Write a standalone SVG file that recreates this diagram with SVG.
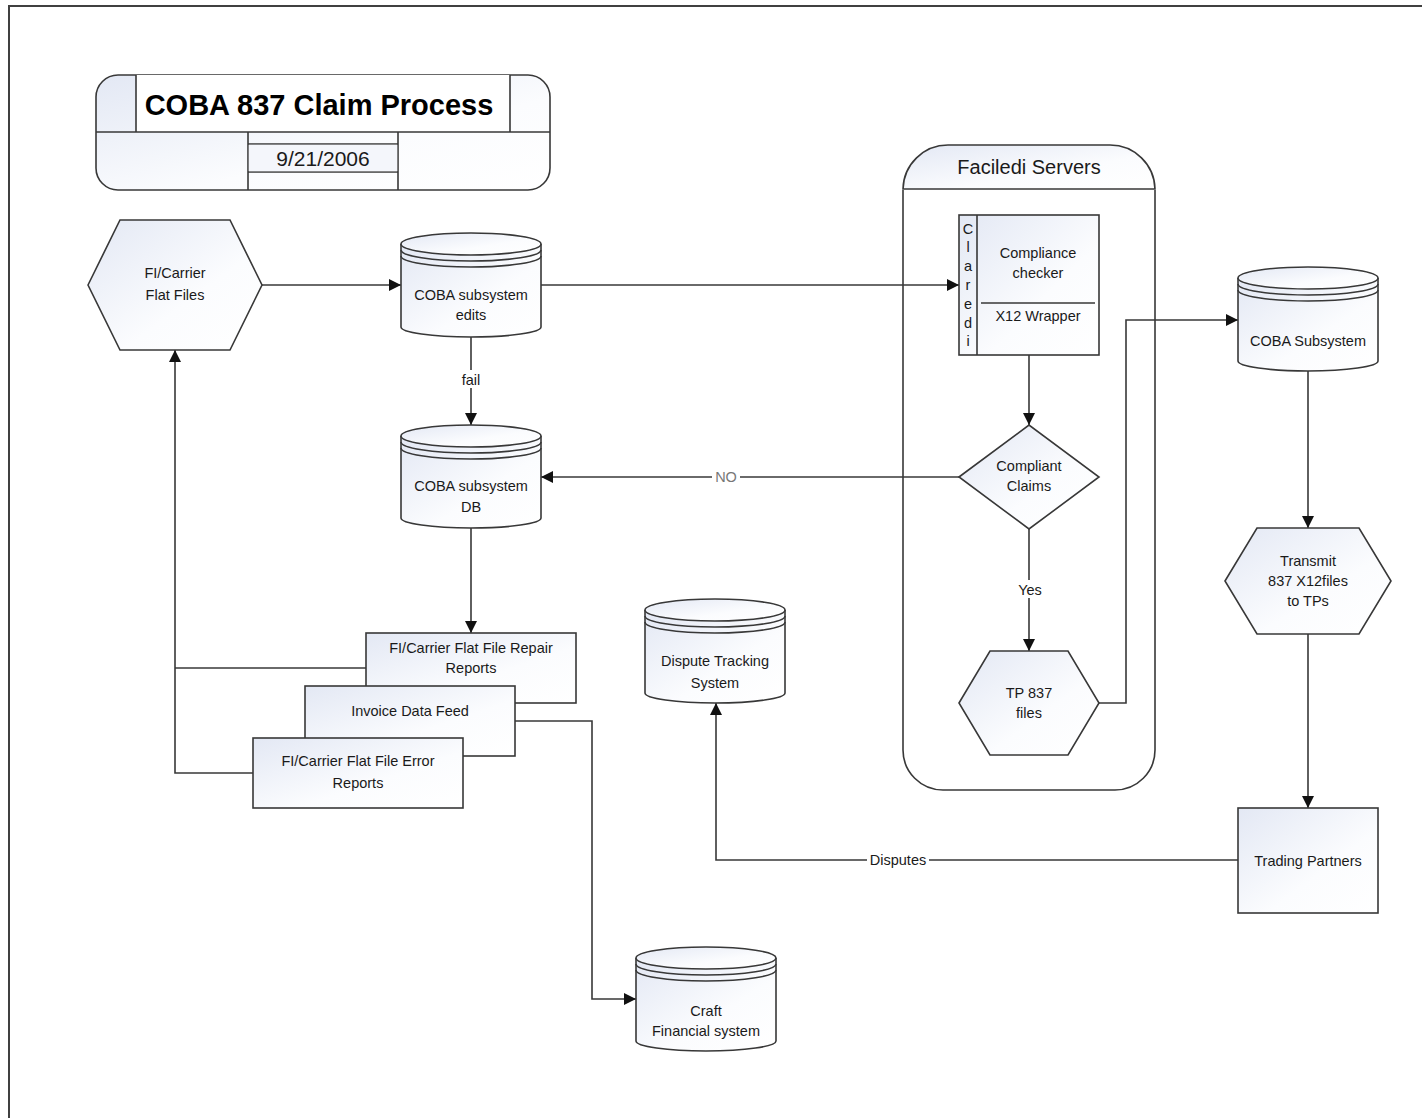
<svg xmlns="http://www.w3.org/2000/svg" width="1422" height="1118" viewBox="0 0 1422 1118">
<defs>
<linearGradient id="g" x1="0" y1="0" x2="1" y2="1">
<stop offset="0" stop-color="#e3e8f4"/>
<stop offset="0.6" stop-color="#fbfcfe"/>
<stop offset="1" stop-color="#ffffff"/>
</linearGradient>
<marker id="ah" viewBox="0 0 12 12" refX="12" refY="6" markerWidth="12" markerHeight="12" markerUnits="userSpaceOnUse" orient="auto">
<path d="M0,0 L12,6 L0,12 Z" fill="#111"/>
</marker>
<style>
.s{fill:url(#g);stroke:#383838;stroke-width:1.6}
.n{fill:none;stroke:#383838;stroke-width:1.6}
.c{fill:none;stroke:#383838;stroke-width:1.6}
.a{marker-end:url(#ah)}
text{font-family:"Liberation Sans",Arial,sans-serif;font-size:14.5px;fill:#1a1a1a;text-anchor:middle}
.lb{fill:#fff;stroke:none}
</style>
</defs>
<rect width="1422" height="1118" fill="#fff"/>
<path d="M9,1118 V6 H1422" fill="none" stroke="#404040" stroke-width="2"/>

<g id="title">
<rect x="96" y="75" width="454" height="115" rx="22" class="s"/>
<rect x="136" y="75" width="374" height="57" fill="#fff" stroke="none"/>
<path d="M136,75 V132 M510,75 V132 M96,132 H550 M248,132 V190 M398,132 V190 M248,144 H398 M248,172 H398" class="n"/>
<rect x="248.8" y="144.8" width="148.4" height="26.4" fill="#f4f6fb" stroke="none"/>
<text x="319" y="115" style="font-size:29px;font-weight:bold;fill:#000">COBA 837 Claim Process</text>
<text x="323" y="166" style="font-size:21px">9/21/2006</text>
</g>

<g id="faciledi">
<path d="M903,190 V750 A40,40 0 0 0 943,790 H1115 A40,40 0 0 0 1155,750 V190" class="n" fill="#fff"/>
<path d="M903,189 A45,45 0 0 1 948,145 H1110 A45,45 0 0 1 1155,189 Z" class="s"/>
<text x="1029" y="174" style="font-size:20px">Faciledi Servers</text>
</g>

<g id="connectors">
<path d="M262,285 H401" class="c a"/>
<path d="M541,285 H959" class="c a"/>
<path d="M471,337 V425" class="c a"/>
<rect x="455" y="370" width="32" height="18" class="lb"/>
<text x="471" y="385">fail</text>
<path d="M959,477 H541" class="c a"/>
<rect x="712" y="468" width="28" height="18" class="lb"/>
<text x="726" y="482" style="fill:#777">NO</text>
<path d="M1029,355 V425" class="c a"/>
<path d="M1029,529 V651" class="c a"/>
<rect x="1013" y="580" width="32" height="18" class="lb"/>
<text x="1030" y="595">Yes</text>
<path d="M1099,703 H1126 V320 H1238" class="c a"/>
<path d="M1308,371 V528" class="c a"/>
<path d="M1308,634 V808" class="c a"/>
<path d="M1238,860 H716 V703" class="c a"/>
<rect x="867" y="851" width="62" height="18" class="lb"/>
<text x="898" y="865">Disputes</text>
<path d="M471,528 V633" class="c a"/>
<path d="M366,668 H175" class="c"/>
<path d="M253,773 H175 V350" class="c a"/>
<path d="M515,721 H592 V999 H636" class="c a"/>
</g>

<g id="fi-carrier">
<polygon points="88,285 120,220 230,220 262,285 230,350 120,350" class="s"/>
<text x="175" y="278">FI/Carrier</text>
<text x="175" y="300">Flat Files</text>
</g>

<g id="coba-edits">
<path d="M401,244 V327 A70,10 0 0 0 541,327 V244" class="s"/>
<ellipse cx="471" cy="244" rx="70" ry="11" class="s"/>
<path d="M401,250 A70,11 0 0 0 541,250 M401,256 A70,11 0 0 0 541,256" class="n"/>
<text x="471" y="300">COBA subsystem</text>
<text x="471" y="320">edits</text>
</g>

<g id="coba-db">
<path d="M401,436 V518 A70,10 0 0 0 541,518 V436" class="s"/>
<ellipse cx="471" cy="436" rx="70" ry="11" class="s"/>
<path d="M401,442 A70,11 0 0 0 541,442 M401,448 A70,11 0 0 0 541,448" class="n"/>
<text x="471" y="491">COBA subsystem</text>
<text x="471" y="512">DB</text>
</g>

<g id="claredi">
<rect x="959" y="215" width="140" height="140" class="s"/>
<path d="M977,215 V355 M981,303 H1095" class="n"/>
<g style="font-size:13px">
<text x="968" y="234">C</text>
<text x="968" y="252">l</text>
<text x="968" y="271">a</text>
<text x="968" y="290">r</text>
<text x="968" y="309">e</text>
<text x="968" y="328">d</text>
<text x="968" y="346">i</text>
</g>
<text x="1038" y="258">Compliance</text>
<text x="1038" y="278">checker</text>
<text x="1038" y="321">X12 Wrapper</text>
</g>

<g id="compliant-claims">
<polygon points="959,477 1029,425 1099,477 1029,529" class="s"/>
<text x="1029" y="471">Compliant</text>
<text x="1029" y="491">Claims</text>
</g>

<g id="tp837">
<polygon points="959,703 990,651 1068,651 1099,703 1068,755 990,755" class="s"/>
<text x="1029" y="698">TP 837</text>
<text x="1029" y="718">files</text>
</g>

<g id="coba-subsystem">
<path d="M1238,278 V361 A70,10 0 0 0 1378,361 V278" class="s"/>
<ellipse cx="1308" cy="278" rx="70" ry="11" class="s"/>
<path d="M1238,284 A70,11 0 0 0 1378,284 M1238,290 A70,11 0 0 0 1378,290" class="n"/>
<text x="1308" y="346">COBA Subsystem</text>
</g>

<g id="transmit">
<polygon points="1225,581 1257,528 1359,528 1391,581 1359,634 1257,634" class="s"/>
<text x="1308" y="566">Transmit</text>
<text x="1308" y="586">837 X12files</text>
<text x="1308" y="606">to TPs</text>
</g>

<g id="trading-partners">
<rect x="1238" y="808" width="140" height="105" class="s"/>
<text x="1308" y="866">Trading Partners</text>
</g>

<g id="dispute-tracking">
<path d="M645,610 V693 A70,10 0 0 0 785,693 V610" class="s"/>
<ellipse cx="715" cy="610" rx="70" ry="11" class="s"/>
<path d="M645,616 A70,11 0 0 0 785,616 M645,622 A70,11 0 0 0 785,622" class="n"/>
<text x="715" y="666">Dispute Tracking</text>
<text x="715" y="688">System</text>
</g>

<g id="repair-reports">
<rect x="366" y="633" width="210" height="70" class="s"/>
<text x="471" y="653">FI/Carrier Flat File Repair</text>
<text x="471" y="673">Reports</text>
</g>

<g id="invoice-feed">
<rect x="305" y="686" width="210" height="70" class="s"/>
<text x="410" y="716">Invoice Data Feed</text>
</g>

<g id="error-reports">
<rect x="253" y="738" width="210" height="70" class="s"/>
<text x="358" y="766">FI/Carrier Flat File Error</text>
<text x="358" y="788">Reports</text>
</g>

<g id="craft">
<path d="M636,958 V1041 A70,10 0 0 0 776,1041 V958" class="s"/>
<ellipse cx="706" cy="958" rx="70" ry="11" class="s"/>
<path d="M636,964 A70,11 0 0 0 776,964 M636,970 A70,11 0 0 0 776,970" class="n"/>
<text x="706" y="1016">Craft</text>
<text x="706" y="1036">Financial system</text>
</g>
</svg>
